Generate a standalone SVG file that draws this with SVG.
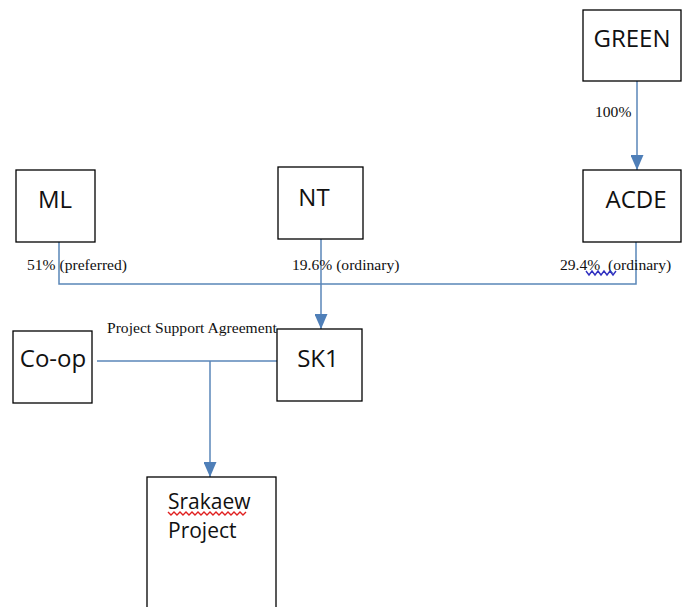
<svg xmlns="http://www.w3.org/2000/svg" width="682" height="607" viewBox="0 0 682 607">
<style>
.box{fill:#fff;stroke:#000;stroke-width:1.3}
.lbl{font-family:"Open Sans",sans-serif;font-size:24px;fill:#111}
.sm{font-family:"Liberation Serif",serif;font-size:15.6px;fill:#111}
.con{fill:none;stroke:#5a86b8;stroke-width:1.5}
.wv{fill:none;stroke-width:1.4}
</style>
<defs>
<marker id="ad" markerUnits="userSpaceOnUse" markerWidth="13" markerHeight="15" refX="6.5" refY="15" viewBox="0 0 13 15">
<path d="M0,0 L13,0 L6.5,15 Z" fill="#4f7fb8"/>
</marker>
</defs>
<rect width="682" height="607" fill="#fff"/>
<g id="connectors">
<line class="con" x1="637" y1="81" x2="637" y2="170" marker-end="url(#ad)"/>
<polyline class="con" points="59,242 59,284 636,284 636,242"/>
<line class="con" x1="321" y1="239" x2="321" y2="329" marker-end="url(#ad)"/>
<line class="con" x1="97" y1="361" x2="277" y2="361"/>
<line class="con" x1="210" y1="361" x2="210" y2="477" marker-end="url(#ad)"/>
</g>
<g id="labels">
<text class="sm" x="595" y="117">100%</text>
<text class="sm" x="27" y="270">51% (preferred)</text>
<text class="sm" x="292" y="270">19.6% (ordinary)</text>
<text class="sm" x="560" y="270" xml:space="preserve">29.4%  (ordinary)</text>
<path class="wv" stroke="#3030c0" d="M586,271 l3,4 l3,-4 l3,4 l3,-4 l3,4 l3,-4 l3,4 l3,-4 l3,4 l3,-4"/>
<text class="sm" x="107" y="333">Project Support Agreement</text>
</g>
<g id="GREEN"><rect class="box" x="583" y="10" width="98" height="71"/><text class="lbl" x="632" y="47" text-anchor="middle">GREEN</text></g>
<g id="ACDE"><rect class="box" x="583" y="170" width="98" height="72"/><text class="lbl" x="636" y="208" text-anchor="middle">ACDE</text></g>
<g id="ML"><rect class="box" x="16" y="170" width="79" height="72"/><text class="lbl" x="55" y="208" text-anchor="middle">ML</text></g>
<g id="NT"><rect class="box" x="278" y="167" width="85" height="72"/><text class="lbl" x="314" y="206" text-anchor="middle">NT</text></g>
<g id="SK1"><rect class="box" x="277" y="329" width="85" height="72"/><text class="lbl" x="318" y="367" text-anchor="middle">SK1</text></g>
<g id="Co-op"><rect class="box" x="13" y="331" width="79" height="72"/><text class="lbl" x="53" y="367" text-anchor="middle">Co-op</text></g>
<g id="Srakaew"><rect class="box" x="147" y="477" width="129" height="140"/>
<text class="lbl" style="font-size:21px" x="168" y="509">Srakaew</text>
<text class="lbl" style="font-size:21px" x="168" y="538">Project</text>
<path class="wv" stroke="#e02020" d="M168,512 l3,3 l3,-3 l3,3 l3,-3 l3,3 l3,-3 l3,3 l3,-3 l3,3 l3,-3 l3,3 l3,-3 l3,3 l3,-3 l3,3 l3,-3 l3,3 l3,-3 l3,3 l3,-3 l3,3 l3,-3 l3,3 l3,-3 l3,3 l3,-3"/>
</g>
</svg>
